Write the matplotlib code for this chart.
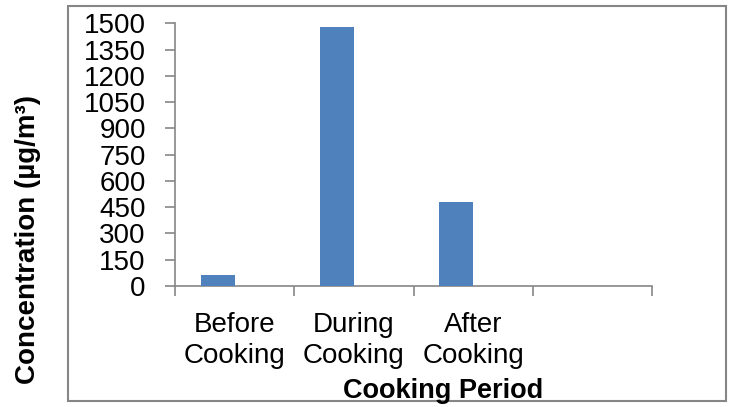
import numpy as np
import matplotlib.pyplot as plt
from matplotlib.patches import Rectangle

categories = ["Before\nCooking", "During\nCooking", "After\nCooking", ""]
concentration = [64, 1479, 480]
yticks = np.arange(0, 1501, 150)

plt.rcParams["font.family"] = ["Liberation Sans", "DejaVu Sans"]

W, H = 731, 407
fig = plt.figure(figsize=(W / 100, H / 100), dpi=100)

# plot area in pixel coords of the reference
x0, x1, y0, y1 = 175, 652, 286, 23.3
ax = fig.add_axes([x0 / W, 1 - y0 / H, (x1 - x0) / W, (y0 - y1) / H])

# excel-style clustered bar with an empty 2nd series, gap width 150%
bw = 1 / 3.5
xs = np.arange(len(concentration)) + 1.25 / 3.5
ax.bar(xs, concentration, width=bw, color="#4F81BD", zorder=3)

gray = "#868686"
ax.set_xlim(0, len(categories))
ax.set_ylim(0, 1500)
ax.set_yticks(yticks)
ax.set_yticklabels([str(v) for v in yticks], fontsize=20)
ax.set_xticks(np.arange(len(categories) + 1))
ax.set_xticklabels([])
ax.set_xticks(np.arange(len(categories)) + 0.5, minor=True)
ax.set_xticklabels(categories, minor=True, fontsize=20, linespacing=1.25)

ax.tick_params(axis="y", direction="out", length=7, width=1.2, color=gray, pad=14)
ax.tick_params(axis="x", which="major", direction="out", length=7, width=1.2, color=gray)
ax.tick_params(axis="x", which="minor", length=0, pad=19)

for s in ["top", "right"]:
    ax.spines[s].set_visible(False)
for s in ["left", "bottom"]:
    ax.spines[s].set_color(gray)
    ax.spines[s].set_linewidth(1.2)

fig.text(443 / W, 1 - 391 / H, "Cooking Period", ha="center", va="center",
         fontsize=19.5, fontweight="bold")
fig.text(28 / W, 1 - 239 / H, "Concentration (µg/m³)", ha="center", va="center",
         rotation=90, fontsize=20, fontweight="bold")

# chart area border
fig.patches.append(Rectangle((68 / W, 1 - 401 / H), (726 - 68) / W, (401 - 6) / H,
                             transform=fig.transFigure, fill=False,
                             edgecolor=gray, linewidth=1.5))

fig.savefig("out.png", dpi=100)
